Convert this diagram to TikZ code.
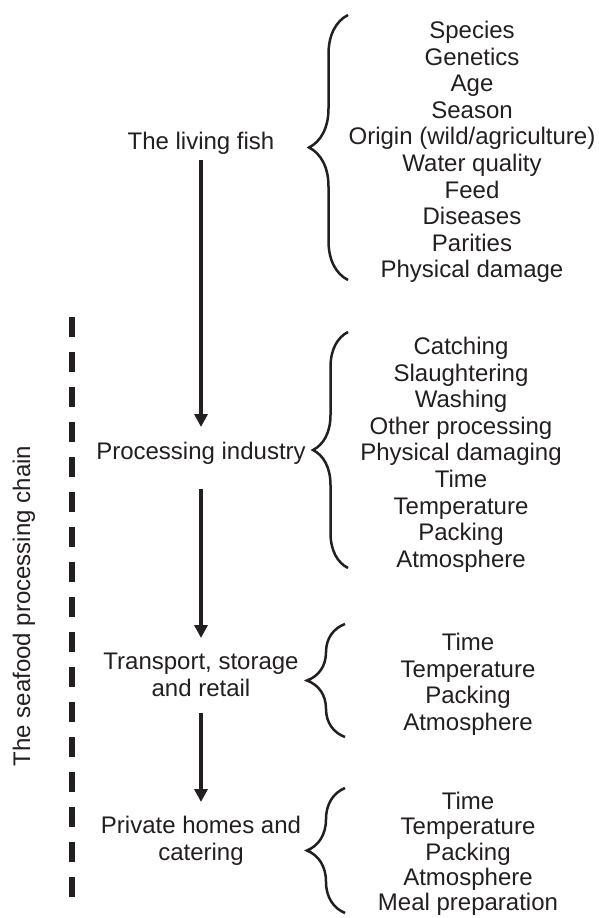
\documentclass[tikz,border=0pt]{standalone}
\usepackage{fontspec}
\setmainfont{Liberation Sans}
\usetikzlibrary{arrows.meta,decorations.pathreplacing}
\definecolor{ink}{RGB}{35,31,32}

\begin{document}
\begin{tikzpicture}[x=1pt,y=-1pt,->,>={Triangle[length=13pt,width=13pt]},color=ink]
   \useasboundingbox (0,0) rectangle (599,918);
   \tikzstyle{stage}=[anchor=north, inner sep=0pt, align=center, font=\fontsize{24}{26.6}\selectfont]
   \tikzstyle{flow}=[line width=4.5pt]
   \tikzstyle{curly}=[-, line width=2.5pt, decorate]
   % stages of the chain
   \node[stage] (fish) at (201,132) {The living fish};
   \node[stage] (proc) at (201,442) {Processing industry};
   \node[stage] (trans) at (201,653) {Transport, storage\\and retail};
   \node[stage] (home) at (201,816) {Private homes and\\catering};
    \path (fish) edge[flow, shorten <=5pt, shorten >=15pt] (proc);
    \path (proc) edge[flow, shorten <=24pt, shorten >=15pt] (trans);
    \path (trans) edge[flow, shorten <=16pt, shorten >=14pt] (home);
   % factors for each stage
   \node[stage] (f1) at (472,21) {Species\\Genetics\\Age\\Season\\Origin (wild/agriculture)\\Water quality\\Feed\\Diseases\\Parities\\Physical damage};
   \node[stage] (f2) at (461,337) {Catching\\Slaughtering\\Washing\\Other processing\\Physical damaging\\Time\\Temperature\\Packing\\Atmosphere};
   \node[stage] (f3) at (468,633) {Time\\Temperature\\Packing\\Atmosphere};
   \node[stage, font=\fontsize{24}{25.3}\selectfont] (f4) at (468,792) {Time\\Temperature\\Packing\\Atmosphere\\Meal preparation};
   \foreach \x/\top/\bot/\amp in {348/15/280/39,348/332/568/35,345/624/737/38,345/788/913/38} {
        \draw[curly, decoration={brace, amplitude=\amp pt}] (\x,\bot) -- (\x,\top);
   }
   % the chain itself
    \coordinate (chaintop) at (72,317);
    \coordinate (chainend) at (72,897);
    \draw[-, line width=6pt, dash pattern=on 20pt off 15pt] (chaintop) -- (chainend);
    \node[rotate=90, inner sep=0pt, font=\fontsize{24}{26.6}\selectfont] (chain) at (24,606) {The seafood processing chain};
\end{tikzpicture}
\end{document}
